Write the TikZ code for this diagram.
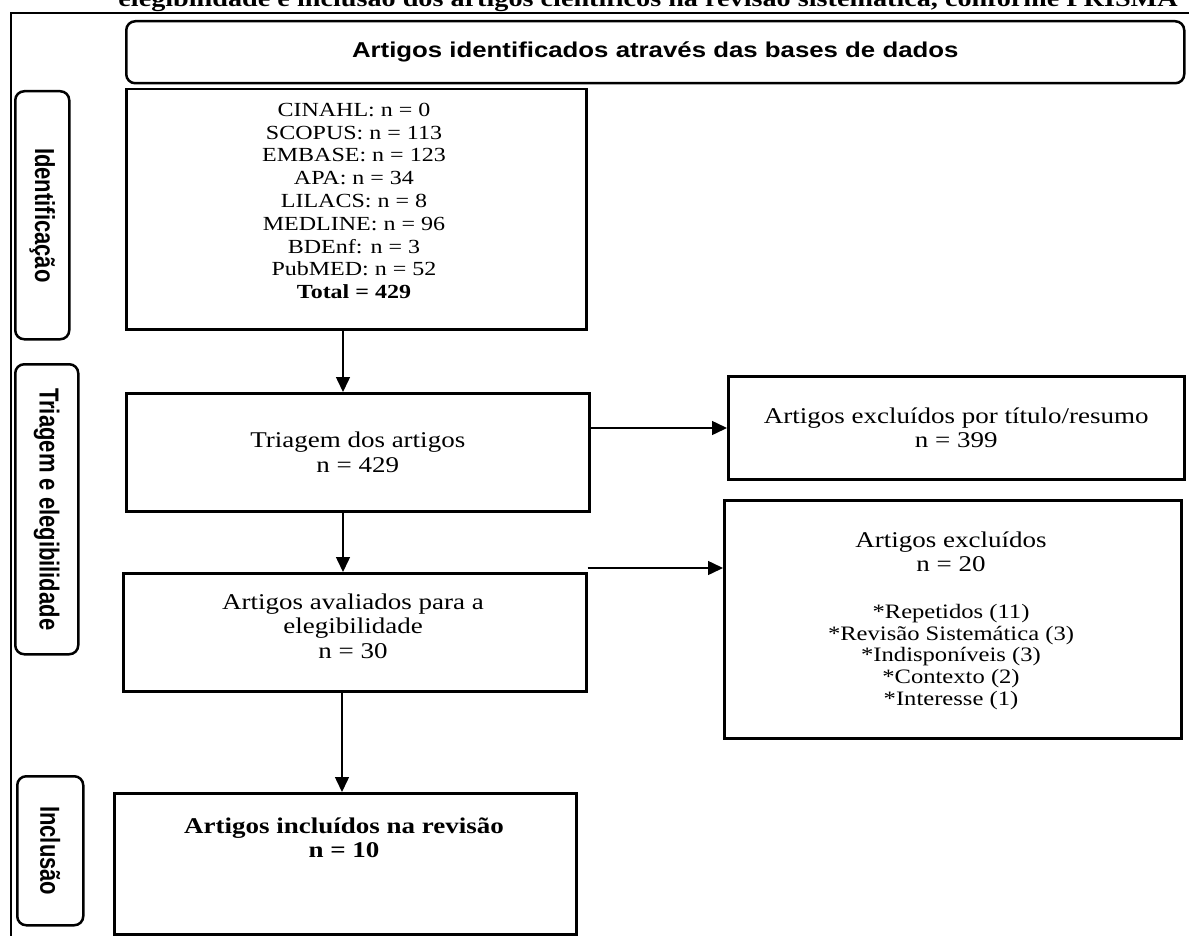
\documentclass[tikz,border=0pt]{standalone}
\usepackage{fontspec}
\setmainfont{Liberation Serif}[FakeStretch=1.2]
\newfontfamily\arialw{Liberation Sans}[FakeStretch=1.2]
\newfontfamily\arialf{Liberation Sans}
\usetikzlibrary{arrows.meta,calc}
\tikzset{
  box/.style={draw, line width=2.5pt, anchor=north west, align=center, inner sep=0pt,
    font=\fontsize{22.5}{24.5}\selectfont},
  boxtxt/.style={align=center, inner sep=0pt, font=\fontsize{22.5}{24.5}\selectfont},
  phase/.style={draw, line width=2.5pt, rounded corners=9pt, anchor=north west, inner sep=0pt},
  phasetxt/.style={rotate=-90, inner sep=0pt, font=\arialf\bfseries\fontsize{22}{24}\selectfont},
  arr/.style={line width=1.5pt, -{Triangle[length=15pt,width=14pt]}},
  frame/.style={line width=2pt}
}
\begin{document}
\begin{tikzpicture}[x=1pt,y=-1pt]
\useasboundingbox (0,0) rectangle (1189,936);
% title (cut off at the top)
\node[anchor=base, font=\bfseries\fontsize{23.5}{28}\selectfont, inner sep=0pt] (title) at (648,7)
  {elegibilidade e inclusão dos artigos científicos na revisão sistemática, conforme PRISMA};
\coordinate (fr1) at (1189,13);
\coordinate (fr2) at (11,13);
\coordinate (fr3) at (11,936);
\draw[frame] (fr1) -- (fr2) -- (fr3);
% header
\node[phase, minimum width=1058pt, minimum height=62pt, font=\arialw\bfseries\fontsize{21.5}{23}\selectfont] (top) at (125,20)
  {Artigos identificados através das bases de dados};
% phase labels
\node[phase, minimum width=54pt, minimum height=248pt] (lid) at (14,90) {};
\node[phasetxt] (lidt) at (lid.center) {\scalebox{1}[1.25]{Identificação}};
\node[phase, minimum width=63pt, minimum height=290pt] (ltri) at (14,363) {};
\node[phasetxt] (ltrit) at (ltri.center) {\scalebox{1}[1.25]{Triagem e elegibilidade}};
\node[phase, minimum width=66pt, minimum height=149pt] (linc) at (16,775) {};
\node[phasetxt] (linct) at (linc.center) {\scalebox{1}[1.25]{Inclusão}};
% main boxes
\node[box, minimum width=460pt, minimum height=240pt] (b1) at (125,88) {};
\node[align=center, font=\fontsize{20}{22.8}\selectfont, inner sep=0pt] (b1t) at (354,201)
  {CINAHL: n = 0\\ SCOPUS: n = 113\\ EMBASE: n = 123\\ APA: n = 34\\ LILACS: n = 8\\
   MEDLINE: n = 96\\ BDEnf: n = 3\\ PubMED: n = 52\\ \textbf{Total = 429}};
\node[box, minimum width=463pt, minimum height=118pt] (b2) at (125,392)
  {Triagem dos artigos\\ n = 429};
\node[box, minimum width=463pt, minimum height=118pt] (b3) at (122,572) {};
\node[boxtxt] (b3t) at (353,626)
  {Artigos avaliados para a\\ elegibilidade\\ n = 30};
\node[box, minimum width=462pt, minimum height=141pt] (b4) at (113,792) {};
\node[boxtxt, font=\bfseries\fontsize{22.5}{24.5}\selectfont] (b4t) at (344,838)
  {Artigos incluídos na revisão\\ n = 10};
\node[box, minimum width=456pt, minimum height=103pt] (e1) at (727,375)
  {Artigos excluídos por título/resumo\\ n = 399};
\node[box, minimum width=457pt, minimum height=238pt] (e2) at (723,499) {};
\node[boxtxt] (e2t) at (951,552)
  {Artigos excluídos\\ n = 20};
\node[align=center, font=\fontsize{20.5}{21.8}\selectfont, inner sep=0pt] (e2l) at (951,657)
  {*Repetidos (11)\\ *Revisão Sistemática (3)\\ *Indisponíveis (3)\\ *Contexto (2)\\ *Interesse (1)};
% connectors
\coordinate (ax) at (343,0);
\coordinate (bx) at (342,0);
\coordinate (ay) at (0,428);
\coordinate (by) at (0,568);
\draw[arr] (b1.south -| ax) -- (b2.north -| ax);
\draw[arr] (b2.south -| ax) -- (b3.north -| ax);
\draw[arr] (b3.south -| bx) -- (b4.north -| bx);
\draw[arr] (b2.east |- ay) -- (e1.west |- ay);
\draw[arr] (b3.east |- by) -- (e2.west |- by);
\end{tikzpicture}
\end{document}
